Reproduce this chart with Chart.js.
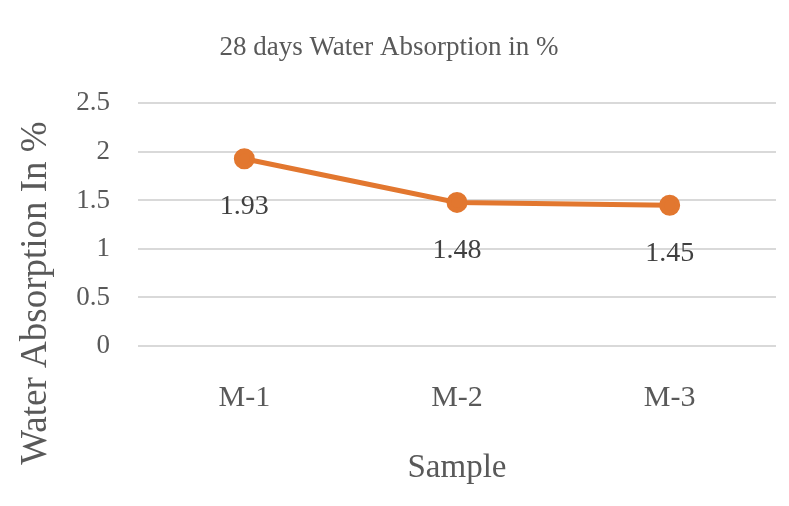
<!DOCTYPE html>
<html lang="en">
<head>
  <meta charset="UTF-8">
  <title>28 days Water Absorption in %</title>
  <script src="https://cdn.jsdelivr.net/npm/chart.js"></script>
  <style>
    body { margin: 0; background: #fff; }
    #wrap { width: 789px; height: 506px; }
  </style>
</head>
<body>
  <div id="wrap"><canvas id="chart" width="789" height="506"></canvas></div>
  <script>
    const samples = ['M-1', 'M-2', 'M-3'];
    const absorption = [1.93, 1.48, 1.45];
    const yTitle = 'Water Absorption In %';

    const serif = "'Liberation Serif', 'DejaVu Serif', serif";
    const textGrey = '#595959';

    // value labels under each point, plus the rotated y title placed lower like the original
    const extras = {
      id: 'extras',
      afterDatasetsDraw(chart) {
        const ctx = chart.ctx;
        const meta = chart.getDatasetMeta(0);
        ctx.save();
        ctx.font = '28px ' + serif;
        ctx.fillStyle = '#404040';
        ctx.textAlign = 'center';
        ctx.textBaseline = 'middle';
        meta.data.forEach((pt, i) => {
          ctx.fillText(absorption[i].toFixed(2), pt.x, pt.y + 48);
        });
        ctx.restore();

        ctx.save();
        ctx.font = '37px ' + serif;
        ctx.fillStyle = textGrey;
        ctx.textAlign = 'center';
        ctx.textBaseline = 'middle';
        ctx.translate(36, 293);
        ctx.rotate(-Math.PI / 2);
        ctx.fillText(yTitle, 0, 0);
        ctx.restore();
      }
    };

    new Chart(document.getElementById('chart'), {
      type: 'line',
      data: {
        labels: samples,
        datasets: [{
          data: absorption,
          borderColor: '#E2772F',
          backgroundColor: '#E2772F',
          borderWidth: 5,
          pointRadius: 8,
          pointHoverRadius: 8,
          tension: 0
        }]
      },
      options: {
        responsive: false,
        animation: false,
        layout: { padding: { left: 0, right: 11, top: 0, bottom: 0 } },
        plugins: {
          legend: { display: false },
          tooltip: { enabled: false },
          title: {
            display: true,
            text: '28 days Water Absorption in %',
            color: textGrey,
            font: { family: serif, size: 27, weight: 'normal' },
            padding: { top: 32, bottom: 39 }
          }
        },
        scales: {
          x: {
            offset: true,
            grid: { display: false },
            border: { display: false },
            ticks: { color: textGrey, font: { family: serif, size: 30 }, padding: 26 },
            title: {
              display: true,
              text: 'Sample',
              color: textGrey,
              font: { family: serif, size: 33 },
              padding: { top: 0, bottom: 18 }
            },
            afterFit(scale) { scale.height = 160; }
          },
          y: {
            min: 0,
            max: 2.5,
            ticks: {
              stepSize: 0.5,
              color: textGrey,
              font: { family: serif, size: 27 },
              padding: 28,
              callback: (v) => String(v)
            },
            grid: { color: '#d9d9d9', lineWidth: 2, drawTicks: false },
            border: { display: false },
            afterFit(scale) { scale.width = 138; }
          }
        }
      },
      plugins: [extras]
    });
  </script>
</body>
</html>
